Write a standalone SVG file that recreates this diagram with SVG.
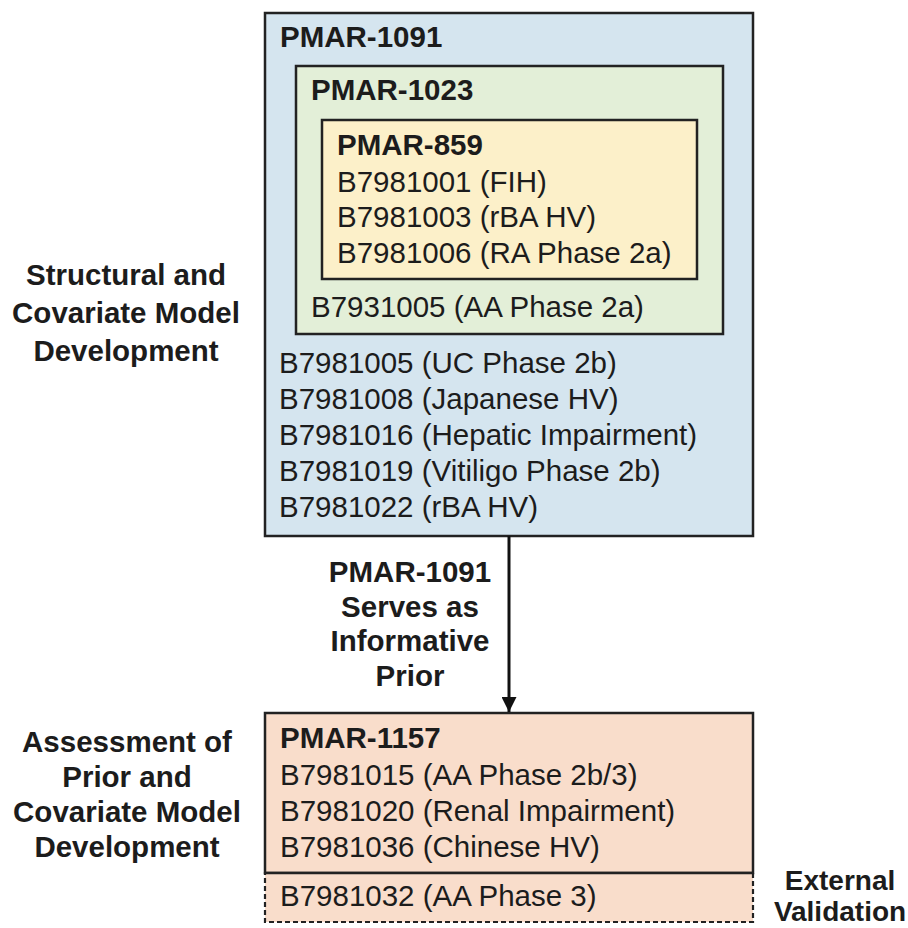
<svg xmlns="http://www.w3.org/2000/svg" width="908" height="928" viewBox="0 0 908 928">
<defs>
<style>
.t{font-family:"Liberation Sans",Arial,sans-serif;font-size:29.5px;fill:#1c1c1c}
.b{font-weight:bold}
.box{stroke:#222;stroke-width:2.5}
.m{text-anchor:middle}
.s{font-size:28px}
</style>
<marker id="ah" viewBox="0 0 10 10" refX="10" refY="5" markerWidth="17" markerHeight="15" markerUnits="userSpaceOnUse" orient="auto">
<path d="M0,0 L10,5 L0,10 z" fill="#111"/>
</marker>
</defs>
<rect width="908" height="928" fill="#fff"/>
<g id="pmar1091">
<rect class="box" x="265" y="13" width="488" height="523" fill="#d5e5ef"/>
<text class="t b" x="280" y="47">PMAR-1091</text>
<text class="t" x="279" y="373">B7981005 (UC Phase 2b)</text>
<text class="t" x="279" y="409">B7981008 (Japanese HV)</text>
<text class="t" x="279" y="445">B7981016 (Hepatic Impairment)</text>
<text class="t" x="279" y="481">B7981019 (Vitiligo Phase 2b)</text>
<text class="t" x="279" y="517">B7981022 (rBA HV)</text>
</g>
<g id="pmar1023">
<rect class="box" x="296" y="66" width="427" height="268" fill="#e3efd8"/>
<text class="t b" x="311" y="100">PMAR-1023</text>
<text class="t" x="311" y="317">B7931005 (AA Phase 2a)</text>
</g>
<g id="pmar859">
<rect class="box" x="322" y="120" width="375" height="159" fill="#fcf0c9"/>
<text class="t b" x="337" y="155">PMAR-859</text>
<text class="t" x="337" y="192">B7981001 (FIH)</text>
<text class="t" x="337" y="227">B7981003 (rBA HV)</text>
<text class="t" x="337" y="263">B7981006 (RA Phase 2a)</text>
</g>
<g id="pmar1157">
<rect class="box" x="265" y="713" width="488" height="160" fill="#f9ddcb"/>
<text class="t b" x="280" y="748">PMAR-1157</text>
<text class="t" x="280" y="785">B7981015 (AA Phase 2b/3)</text>
<text class="t" x="280" y="821">B7981020 (Renal Impairment)</text>
<text class="t" x="280" y="857">B7981036 (Chinese HV)</text>
</g>
<g id="external">
<rect x="265" y="873" width="488" height="49" fill="#f9ddcb" stroke="#222" stroke-width="2.2" stroke-dasharray="5,3"/>
<line x1="265" y1="873" x2="753" y2="873" stroke="#222" stroke-width="2.5"/>
<text class="t" x="280" y="906">B7981032 (AA Phase 3)</text>
<text class="t b m s" x="840" y="890">External</text>
<text class="t b m s" x="840" y="921">Validation</text>
</g>
<g id="label-structural">
<text class="t b m" x="126" y="285">Structural and</text>
<text class="t b m" x="126" y="323">Covariate Model</text>
<text class="t b m" x="126" y="361">Development</text>
</g>
<g id="label-assessment">
<text class="t b m" x="127" y="752">Assessment of</text>
<text class="t b m" x="127" y="787">Prior and</text>
<text class="t b m" x="127" y="822">Covariate Model</text>
<text class="t b m" x="127" y="857">Development</text>
</g>
<g id="connectors">
<line x1="509" y1="536" x2="509" y2="712" stroke="#111" stroke-width="3" marker-end="url(#ah)"/>
<text class="t b m" x="410" y="582">PMAR-1091</text>
<text class="t b m" x="410" y="617">Serves as</text>
<text class="t b m" x="410" y="651">Informative</text>
<text class="t b m" x="410" y="686">Prior</text>
</g>
</svg>
